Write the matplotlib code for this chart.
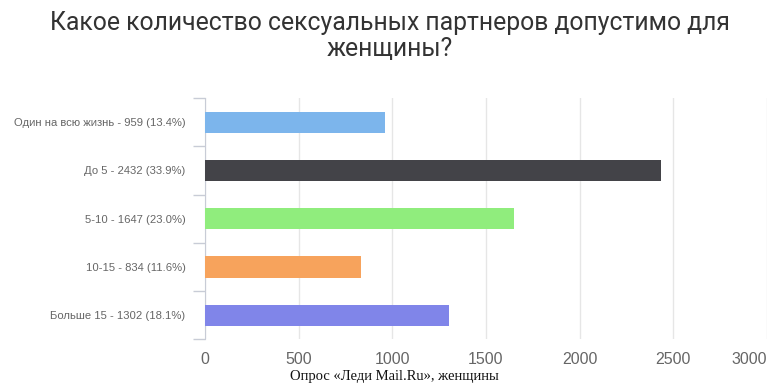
import matplotlib
matplotlib.use("Agg")
import matplotlib.pyplot as plt
from matplotlib.ticker import FixedLocator

# survey answers
labels = [
    "Один на всю жизнь - 959 (13.4%)",
    "До 5 - 2432 (33.9%)",
    "5-10 - 1647 (23.0%)",
    "10-15 - 834 (11.6%)",
    "Больше 15 - 1302 (18.1%)",
]
values = [959, 2432, 1647, 834, 1302]
colors = ["#7cb5ec", "#434348", "#90ed7d", "#f7a35c", "#8085e9"]
xticks = [0, 500, 1000, 1500, 2000, 2500, 3000]

plt.rcParams["font.family"] = ["Liberation Sans", "DejaVu Sans"]

fig = plt.figure(figsize=(7.8, 3.9), dpi=100)
ax = fig.add_axes([0.2628, 0.1295, 0.7205, 0.6192])

ypos = list(range(len(values)))
ax.barh(ypos, values, height=0.44, color=colors, zorder=3)

ax.set_xlim(0, 3000)
ax.set_ylim(len(values) - 0.5, -0.5)
ax.set_xticks(xticks)
ax.set_xticklabels([str(t) for t in xticks])
ax.grid(axis="x", color="#e6e6e6", lw=1, zorder=0)

ax.set_yticks(ypos)
ax.set_yticklabels(labels, fontsize=8.1, color="#666666")
ax.yaxis.set_minor_locator(FixedLocator([i - 0.5 for i in range(len(values) + 1)]))
ax.tick_params(axis="y", which="major", length=0, pad=14)
ax.tick_params(axis="y", which="minor", length=8.6, color="#c8ccd6", width=1)
ax.tick_params(axis="x", length=0, pad=9, labelsize=11.5, labelcolor="#666666")

for s in ["top", "right", "bottom"]:
    ax.spines[s].set_visible(False)
ax.spines["left"].set_color("#c8ccd6")

last = ax.get_xticklabels()[-1]
last.set_horizontalalignment("right")

fig.text(0.5, 0.973, "Какое количество сексуальных партнеров допустимо для\nженщины?",
         ha="center", va="top", fontsize=17.8, color="#333333",
         family=["Roboto", "DejaVu Sans"], linespacing=1.12)

fig.text(0.506, 0.035, "Опрос «Леди Mail.Ru», женщины", ha="center", va="center",
         fontsize=10.5, color="#111111", family=["Liberation Serif", "DejaVu Serif"])

fig.savefig("out.png", dpi=100)
